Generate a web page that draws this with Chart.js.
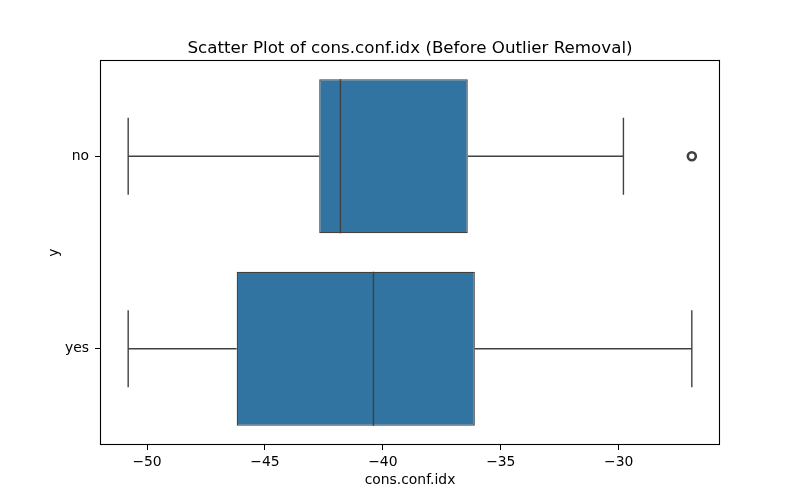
<!DOCTYPE html>
<html>
<head>
<meta charset="utf-8">
<script src="https://cdn.jsdelivr.net/npm/chart.js@4.4.1/dist/chart.umd.min.js"></script>
<style>
  html, body { margin: 0; padding: 0; background: #ffffff; }
  #wrap { width: 800px; height: 500px; }
</style>
</head>
<body>
<div id="wrap"><canvas id="c" width="800" height="500"></canvas></div>
<script>
// ---- data ----
const categories   = ['no', 'yes'];
const whiskerLow   = [-50.8, -50.8];
const q1Values     = [-42.7, -46.2];
const medianValues = [-41.8, -40.4];
const q3Values     = [-36.4, -36.1];
const whiskerHigh  = [-29.8, -26.9];
const outlierValues = [[-26.9], []];
const xTickValues  = [-50, -45, -40, -35, -30];

const titleText  = 'Scatter Plot of cons.conf.idx (Before Outlier Removal)';
const xAxisTitle = 'cons.conf.idx';
const yAxisTitle = 'y';

// ---- styles ----
const FONT = "'DejaVu Sans', sans-serif";
const BOX_FILL = '#3274a1';
const EDGE = '#414141';
const BOX_WIDTH = 0.8;   // in category units
const CAP_HALF = 0.2;    // whisker cap half-length in category units

// axis limits like matplotlib's 5% margins
const allVals = [].concat(whiskerLow, whiskerHigh, ...outlierValues);
const dMin = Math.min(...allVals), dMax = Math.max(...allVals);
const margin = (dMax - dMin) * 0.05;

const datasets = [];

// boxes (floating bars)
datasets.push({
  type: 'bar',
  indexAxis: 'y',
  data: categories.map((c, i) => ({ x: [q1Values[i], q3Values[i]], y: i })),
  backgroundColor: BOX_FILL,
  borderColor: EDGE,
  borderWidth: 1.3,
  borderSkipped: false,
  categoryPercentage: 1,
  barPercentage: BOX_WIDTH,
  order: 3
});

// whiskers, caps, medians
categories.forEach((c, i) => {
  const segs = [
    [{ x: whiskerLow[i], y: i }, { x: q1Values[i], y: i }],
    [{ x: q3Values[i], y: i }, { x: whiskerHigh[i], y: i }],
    [{ x: whiskerLow[i], y: i - CAP_HALF }, { x: whiskerLow[i], y: i + CAP_HALF }],
    [{ x: whiskerHigh[i], y: i - CAP_HALF }, { x: whiskerHigh[i], y: i + CAP_HALF }],
    [{ x: medianValues[i], y: i - BOX_WIDTH / 2 }, { x: medianValues[i], y: i + BOX_WIDTH / 2 }]
  ];
  segs.forEach(s => datasets.push({
    type: 'scatter',
    showLine: true,
    data: s,
    borderColor: EDGE,
    borderWidth: 1.4,
    pointRadius: 0,
    fill: false,
    order: 2
  }));
});

// outliers
datasets.push({
  type: 'scatter',
  data: categories.flatMap((c, i) => outlierValues[i].map(v => ({ x: v, y: i }))),
  pointStyle: 'circle',
  pointRadius: 4,
  pointBorderWidth: 2.6,
  pointBorderColor: EDGE,
  pointBackgroundColor: 'rgba(0,0,0,0)',
  order: 1
});

const framePlugin = {
  id: 'frame',
  afterLayout(chart) {
    // center the title over the plot area, as matplotlib does
    const tb = chart.titleBlock, a = chart.chartArea;
    if (tb && a) {
      tb.left = a.left;
      tb.right = a.right;
      tb.width = a.right - a.left;
    }
  },
  afterDraw(chart) {
    const a = chart.chartArea, ctx = chart.ctx;
    ctx.save();
    ctx.strokeStyle = '#000';
    ctx.lineWidth = 1.1;
    ctx.strokeRect(Math.round(a.left) + 0.5, Math.round(a.top) + 0.5,
                   Math.round(a.right - a.left) - 1, Math.round(a.bottom - a.top) - 1);
    ctx.restore();
  }
};

new Chart(document.getElementById('c'), {
  type: 'scatter',
  data: { datasets },
  plugins: [framePlugin],
  options: {
    responsive: false,
    animation: false,
    layout: { padding: { left: 0, right: 80, top: 0, bottom: 0 } },
    plugins: {
      legend: { display: false },
      tooltip: { enabled: false },
      title: {
        display: true,
        text: titleText,
        color: '#000',
        font: { family: FONT, size: 16.7, weight: 'normal' },
        padding: { top: 39, bottom: 1 }
      }
    },
    scales: {
      x: {
        type: 'linear',
        position: 'bottom',
        min: dMin - margin,
        max: dMax + margin,
        offset: false,
        afterBuildTicks: (s) => { s.ticks = xTickValues.map(v => ({ value: v })); },
        afterFit: (s) => { s.height = 55; },
        ticks: {
          color: '#000',
          font: { family: FONT, size: 13.9 },
          padding: 4,
          maxRotation: 0,
          callback: (v) => String(v).replace('-', '\u2212')
        },
        grid: { drawOnChartArea: false, drawTicks: true, tickLength: 5, tickColor: '#000', tickWidth: 1, offset: false },
        border: { display: false },
        title: {
          display: true,
          text: xAxisTitle,
          color: '#000',
          font: { family: FONT, size: 13.9 },
          padding: { top: 0, bottom: 11.5 }
        }
      },
      y: {
        type: 'linear',
        position: 'left',
        min: -0.5,
        max: categories.length - 0.5,
        reverse: true,
        offset: false,
        beginAtZero: false,
        afterBuildTicks: (s) => { s.ticks = categories.map((c, i) => ({ value: i })); },
        afterFit: (s) => { s.width = 100; },
        ticks: {
          color: '#000',
          font: { family: FONT, size: 13.9 },
          padding: 6,
          callback: (v) => categories[v]
        },
        grid: { drawOnChartArea: false, drawTicks: true, tickLength: 5, tickColor: '#000', tickWidth: 1, offset: false },
        border: { display: false },
        title: {
          display: true,
          text: yAxisTitle,
          color: '#000',
          font: { family: FONT, size: 13.9 },
          padding: { top: 46.5, bottom: 0 }
        }
      }
    }
  }
});
</script>
</body>
</html>
